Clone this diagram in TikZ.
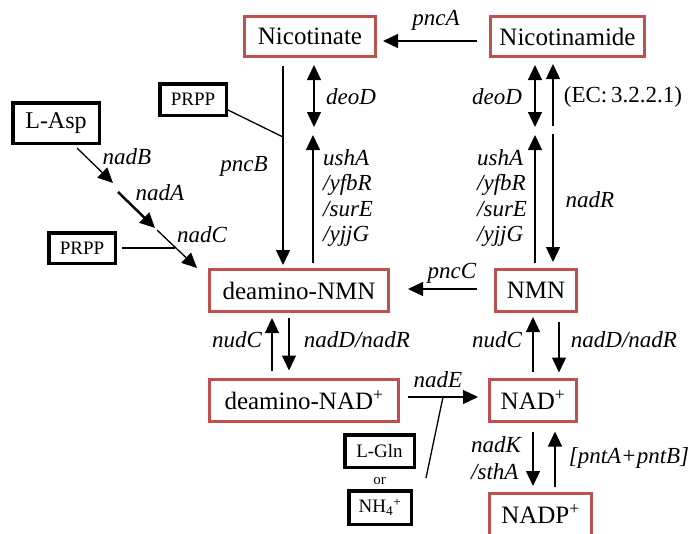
\documentclass[tikz,border=0pt]{standalone}
\usepackage{fontspec}
\setmainfont{Liberation Serif}
\usetikzlibrary{arrows.meta}
\definecolor{nadred}{HTML}{C0504D}
\begin{document}
\begin{tikzpicture}[x=1pt,y=-1pt,
  redbox/.style={draw=nadred, line width=3pt, inner sep=0pt, font=\fontsize{25}{30}\selectfont},
  blkbox/.style={draw=black, line width=3.5pt, inner sep=0pt},
  lbl/.style={font=\fontsize{23}{25.5}\selectfont\itshape, inner sep=0pt},
  uplbl/.style={font=\fontsize{23}{25.5}\selectfont, inner sep=0pt},
  conn/.style={line width=1.3pt},
  arr/.style={conn,-{Triangle[length=15pt,width=14pt]}},
  darr/.style={conn,{Triangle[length=15pt,width=14pt]}-{Triangle[length=15pt,width=14pt]}},
]
\useasboundingbox (0,0) rectangle (691,533);
\clip (0,0) rectangle (691,533);

% red boxes
\node[redbox, minimum width=131pt, minimum height=40pt] (nicotinate) at (310,36.5) {Nicotinate};
\node[redbox, minimum width=154pt, minimum height=40pt] (nicotinamide) at (567.5,36.5) {Nicotinamide};
\node[redbox, minimum width=179pt, minimum height=42pt] (dnmn) at (299,290.5) {deamino-NMN};
\node[redbox, minimum width=81pt, minimum height=42pt] (nmn) at (536,290.5) {NMN};
\node[redbox, minimum width=189pt, minimum height=42pt] (dnad) at (304,400) {deamino-NAD\textsuperscript{+}};
\node[redbox, minimum width=87pt, minimum height=42pt] (nad) at (533,400) {NAD\textsuperscript{+}};
\node[redbox, minimum width=102pt, minimum height=42pt] (nadp) at (540.5,514.5) {NADP\textsuperscript{+}};

% black boxes
\node[blkbox, minimum width=66.5pt, minimum height=31.5pt, font=\fontsize{19}{22}\selectfont] (prppA) at (193,99.5) {PRPP};
\node[blkbox, minimum width=86.5pt, minimum height=40.5pt, font=\fontsize{24}{28}\selectfont] (lasp) at (56,123) {L-Asp};
\node[blkbox, minimum width=66.5pt, minimum height=30.5pt, font=\fontsize{19}{22}\selectfont] (prppB) at (82,248) {PRPP};
\node[blkbox, minimum width=69.5pt, minimum height=32.5pt, font=\fontsize{19}{22}\selectfont] (lgln) at (379.5,451) {L-Gln};
\node[inner sep=0pt, font=\fontsize{15}{18}\selectfont] (or) at (379.5,481) {or};
\node[blkbox, minimum width=62.5pt, minimum height=33.5pt, font=\fontsize{19}{22}\selectfont] (nh4) at (380,507.5) {NH\textsubscript{4}\textsuperscript{+}};

% pncA
\draw[arr] ([xshift=-12pt,yshift=-4.5pt]nicotinamide.west) -- ([xshift=6pt,yshift=-4.5pt]nicotinate.east);
\node[lbl] (lpncA) at (436,20) {pncA};

% pncB
\draw[arr] ([xshift=-27pt,yshift=-8pt]nicotinate.south) -- ([xshift=-16pt,yshift=3pt]dnmn.north);
\coordinate (pncBjoin) at (283,137);
\draw[conn] ([yshift=-10.5pt]prppA.east) -- (pncBjoin);
\node[lbl] (lpncB) at (244,166) {pncB};

% left deoD and ushA
\draw[darr] ([xshift=4pt,yshift=-7pt]nicotinate.south) -- ++(0,62);
\node[lbl] (ldeoDa) at (351,97) {deoD};
\draw[arr] ([xshift=14pt,yshift=5pt]dnmn.north) -- ++(0,-128);
\node[lbl, align=left, anchor=west] (lushAa) at (323,198) {ushA\\/yfbR\\/surE\\/yjjG};

% right deoD, EC, ushA, nadR
\draw[darr] ([xshift=-32.5pt,yshift=-7pt]nicotinamide.south) -- ++(0,62);
\node[lbl] (ldeoDb) at (497,97) {deoD};
\draw[arr] ([xshift=-14.5pt,yshift=-68pt]nicotinamide.south) -- ([xshift=-14.5pt,yshift=-6pt]nicotinamide.south);
\node[uplbl] (lec) at (623,97) {(EC:\,3.2.2.1)};
\draw[arr] ([xshift=-1pt,yshift=5pt]nmn.north) -- ++(0,-128);
\node[lbl, align=left, anchor=west] (lushAb) at (477,198) {ushA\\/yfbR\\/surE\\/yjjG};
\draw[arr] ([xshift=-14.5pt,yshift=-76pt]nicotinamide.south) -- ([xshift=17pt,yshift=6pt]nmn.north);
\node[lbl] (lnadR) at (590,200) {nadR};

% pncC
\draw[arr] ([xshift=-17pt,yshift=1.5pt]nmn.west) -- ([xshift=18pt,yshift=1.5pt]dnmn.east);
\node[lbl] (lpncC) at (452,273) {pncC};

% deamino-NMN <-> deamino-NAD+
\draw[arr] ([xshift=-32pt,yshift=7pt]dnad.north) -- ([xshift=-27pt,yshift=-5pt]dnmn.south);
\draw[arr] ([xshift=-10pt,yshift=-5pt]dnmn.south) -- ([xshift=-15pt,yshift=7pt]dnad.north);
\node[lbl] (lnudCa) at (237,340) {nudC};
\node[lbl] (lnadDa) at (357,340) {nadD/nadR};

% NMN <-> NAD+
\draw[arr] ([yshift=6pt]nad.north) -- ([xshift=-3pt,yshift=-4pt]nmn.south);
\draw[arr] ([xshift=23pt,yshift=-9pt]nmn.south) -- ([xshift=26pt,yshift=5pt]nad.north);
\node[lbl] (lnudCb) at (497,340) {nudC};
\node[lbl] (lnadDb) at (624,340) {nadD/nadR};

% nadE
\draw[arr] ([xshift=8pt,yshift=3pt]dnad.east) -- ([xshift=-10pt,yshift=3pt]nad.west);
\coordinate (ejoin) at (443,397);
\coordinate (efoot) at (426,478);
\draw[conn] (efoot) -- (ejoin);
\node[lbl] (lnadE) at (438,380) {nadE};

% NAD+ <-> NADP+
\draw[arr] ([yshift=-9pt]nad.south) -- ([xshift=-7.5pt,yshift=6pt]nadp.north);
\draw[arr] ([xshift=14.5pt,yshift=5pt]nadp.north) -- ([xshift=22pt,yshift=-9pt]nad.south);
\node[lbl, align=left, anchor=west, font=\fontsize{23}{27}\selectfont\itshape] (lnadK) at (471,458) {nadK\\/sthA};
\node[lbl] (lpnt) at (629,458) {[pntA+pntB]};

% L-Asp chain
\coordinate (bTip) at (113,183);
\coordinate (aStart) at (118,192);
\coordinate (aTip) at (155,228);
\coordinate (cStart) at (157,230);
\coordinate (cJoin) at (175,248);
\draw[arr] ([xshift=21pt,yshift=-3pt]lasp.south) -- (bTip);
\draw[arr, line width=2.5pt] (aStart) -- (aTip);
\draw[arr] (cStart) -- ([xshift=-11pt]dnmn.north west);
\draw[conn] ([xshift=5pt]prppB.east) -- (cJoin);
\node[lbl] (lnadB) at (127,157) {nadB};
\node[lbl] (lnadA) at (160,193) {nadA};
\node[lbl] (lnadC) at (202,235) {nadC};
\end{tikzpicture}
\end{document}
